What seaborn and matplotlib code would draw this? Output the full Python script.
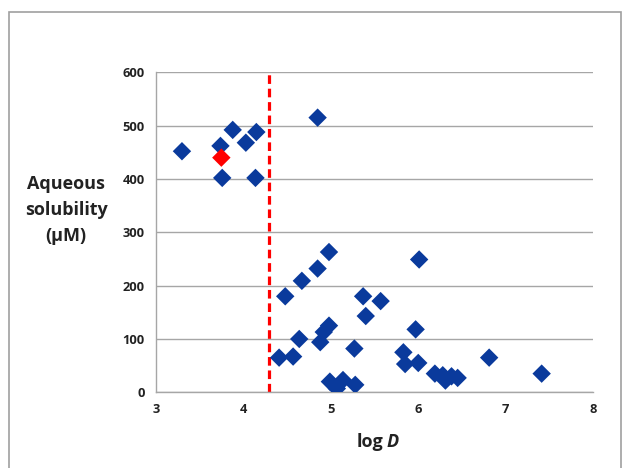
import matplotlib
matplotlib.use("Agg")
import matplotlib.pyplot as plt
import seaborn as sns
import pandas as pd
from matplotlib.patches import Rectangle

# Data (log D, aqueous solubility in µM)
logd_blue = [3.30, 3.74, 3.88, 4.03, 4.15, 3.76, 4.14, 4.85,
             4.98, 6.01, 4.85, 4.67, 4.48, 5.37, 5.57, 5.40,
             4.98, 4.92, 4.88, 5.97, 4.64, 5.27, 5.83, 4.41, 4.57,
             5.85, 6.00, 6.19, 6.28, 6.31, 6.38, 6.45, 6.81, 7.41,
             4.99, 5.07, 5.14, 5.28]
sol_blue = [452, 462, 492, 468, 488, 402, 402, 515,
            263, 249, 232, 209, 180, 180, 171, 143,
            125, 113, 94, 118, 100, 82, 75, 65, 67,
            53, 55, 35, 32, 22, 30, 27, 65, 35,
            20, 7, 23, 14]
logd_red = [3.75]
sol_red = [440]
threshold = 4.30
x_ticks = [3, 4, 5, 6, 7, 8]
y_ticks = [0, 100, 200, 300, 400, 500, 600]

df = pd.DataFrame({
    "logD": logd_blue + logd_red,
    "sol": sol_blue + sol_red,
    "grp": ["blue"] * len(logd_blue) + ["red"] * len(logd_red),
})

sns.set_theme(style="white")
plt.rcParams["font.family"] = ["Open Sans", "DejaVu Sans"]

W, H = 629, 468
fig = plt.figure(figsize=(W / 100, H / 100), dpi=100)
ax = fig.add_axes([155.7 / W, 1 - 392.3 / H, (593.3 - 155.7) / W, (392.3 - 72.3) / H])

grid_c = "#A6A6A6"
ax.set_xlim(3, 8)
ax.set_ylim(0, 600)
ax.set_xticks(x_ticks)
ax.set_yticks(y_ticks)
ax.yaxis.grid(True, color=grid_c, linewidth=1.0)
ax.xaxis.grid(False)
ax.set_axisbelow(True)

ax.axvline(threshold, color="#FF0000", linewidth=2.3, dashes=(2.7, 1.5), zorder=2)

sns.scatterplot(data=df, x="logD", y="sol", hue="grp",
                palette={"blue": "#0A3A9C", "red": "#FF0000"},
                marker="D", s=88, edgecolor="none", legend=False, ax=ax, zorder=3)

for s in ["top", "right"]:
    ax.spines[s].set_visible(False)
for s in ["left", "bottom"]:
    ax.spines[s].set_color(grid_c)
    ax.spines[s].set_linewidth(1.0)

ax.tick_params(axis="both", which="major", direction="out", length=4, width=1,
               color=grid_c, labelsize=9.3, pad=4)
for lab in ax.get_xticklabels() + ax.get_yticklabels():
    lab.set_fontweight("bold")
    lab.set_color("#222222")

ax.set_xlabel("")
ax.set_ylabel("")

# x label: "log D" with italic D
fig.text(383 / W, 1 - 442 / H, "log", ha="right", va="center",
         fontsize=13, fontweight="bold", color="#222222")
fig.text(387 / W, 1 - 442 / H, "D", ha="left", va="center",
         fontsize=13, fontweight="bold", fontstyle="italic", color="#222222")

# y label
fig.text(66 / W, 1 - 210 / H, "Aqueous\nsolubility\n(\u03bcM)", ha="center", va="center",
         fontsize=13, fontweight="bold", color="#222222", linespacing=1.55)

# outer frame
fig.patches.append(Rectangle((9 / W, -0.01), (621 - 9) / W, 1 - 12 / H + 0.01,
                             transform=fig.transFigure, fill=False,
                             edgecolor="#A0A0A0", linewidth=1.2))

fig.savefig("out.png", dpi=100)
